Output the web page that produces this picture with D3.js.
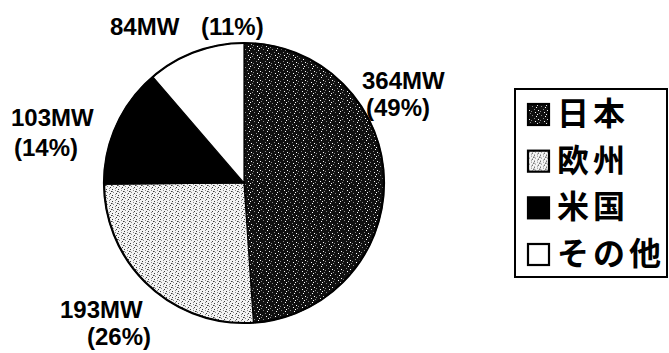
<!DOCTYPE html>
<html>
<head>
<meta charset="utf-8">
<script src="https://cdn.jsdelivr.net/npm/d3@7"></script>
<style>
  html, body { margin: 0; padding: 0; background: #fff; }
  svg { display: block; }
</style>
</head>
<body>
<svg id="chart" width="669" height="353"></svg>
<script>
// Installed capacity by region (MW)
const regions = ["日本", "欧州", "米国", "その他"];
const capacityMW = [364, 193, 103, 84];

// Label placement for each slice: first line x/baseline, second line x, line gap
const labelLayout = {
  "日本":  { x: 362, y: 89,  x2: 366, lead: 27 },
  "欧州":  { x: 60,  y: 318, x2: 87,  lead: 27 },
  "米国":  { x: 11,  y: 126, x2: 14,  lead: 30 },
  "その他": { x: 110, y: 35,  x2: 201, lead: 0 }
};

const svg = d3.select("#chart");
const defs = svg.append("defs");

// Dark stipple: black ground with scattered light specks
const dark = defs.append("pattern").attr("id", "pDark")
  .attr("patternUnits", "userSpaceOnUse").attr("width", 9).attr("height", 9);
dark.append("rect").attr("width", 9).attr("height", 9).attr("fill", "#101010");
[[1,1],[5,2],[3,4],[7,5],[0,6],[4,7],[8,8],[6,0]].forEach(([x, y], i) =>
  dark.append("rect").attr("x", x).attr("y", y).attr("width", 1).attr("height", 1)
    .attr("fill", i % 2 ? "#ffffff" : "#8a8a8a"));

// Light stipple: white ground with gray specks
const light = defs.append("pattern").attr("id", "pLight")
  .attr("patternUnits", "userSpaceOnUse").attr("width", 6).attr("height", 6);
light.append("rect").attr("width", 6).attr("height", 6).attr("fill", "#f4f4f4");
[[0,0],[3,1],[1,3],[4,4],[0,2],[3,5],[5,2]].forEach(([x, y], i) =>
  light.append("rect").attr("x", x).attr("y", y).attr("width", 1).attr("height", 1)
    .attr("fill", i % 3 ? "#8a8a8a" : "#3a3a3a"));

const fills = d3.scaleOrdinal()
  .domain(regions)
  .range(["url(#pDark)", "url(#pLight)", "#000000", "#ffffff"]);

const cx = 244, cy = 183, radius = 140;
const total = d3.sum(capacityMW);
const data = regions.map((r, i) => ({ region: r, value: capacityMW[i] }));

const pie = d3.pie().value(d => d.value).sort(null);
const arc = d3.arc().innerRadius(0).outerRadius(radius);

const g = svg.append("g").attr("transform", `translate(${cx},${cy})`);
g.selectAll("path.slice")
  .data(pie(data))
  .join("path")
  .attr("class", "slice")
  .attr("d", arc)
  .attr("fill", d => fills(d.data.region))
  .attr("stroke", "#000")
  .attr("stroke-width", 1.2);

g.append("circle").attr("r", radius)
  .attr("fill", "none").attr("stroke", "#000").attr("stroke-width", 2.2);

// Value labels: capacity and share
const labelFont = "'Liberation Sans', Arial, sans-serif";
data.forEach(d => {
  const L = labelLayout[d.region];
  const pct = Math.round(d.value / total * 100);
  const t = svg.append("text")
    .attr("font-family", labelFont).attr("font-weight", "bold")
    .attr("font-size", 24).attr("fill", "#000");
  t.append("tspan").attr("x", L.x).attr("y", L.y).text(`${d.value}MW`);
  t.append("tspan").attr("x", L.x2).attr("y", L.y + L.lead).text(`(${pct}%)`);
});

// Legend
const legend = svg.append("g");
legend.append("rect")
  .attr("x", 515).attr("y", 89).attr("width", 152).attr("height", 188)
  .attr("fill", "#fff").attr("stroke", "#000").attr("stroke-width", 2);

const rowY = d3.scalePoint().domain(regions).range([114, 254]);
const rows = legend.selectAll("g.row").data(regions).join("g")
  .attr("class", "row")
  .attr("transform", d => `translate(0,${rowY(d)})`);
rows.append("rect")
  .attr("x", 528).attr("y", -10).attr("width", 21).attr("height", 21)
  .attr("fill", d => fills(d))
  .attr("stroke", "#000").attr("stroke-width", 2.2);
rows.append("text")
  .attr("x", 557).attr("y", 11)
  .attr("font-family", "'Noto Sans CJK JP', sans-serif")
  .attr("font-weight", "bold")
  .attr("font-size", 32).attr("letter-spacing", 4)
  .attr("fill", "#000")
  .text(d => d);
</script>
</body>
</html>
